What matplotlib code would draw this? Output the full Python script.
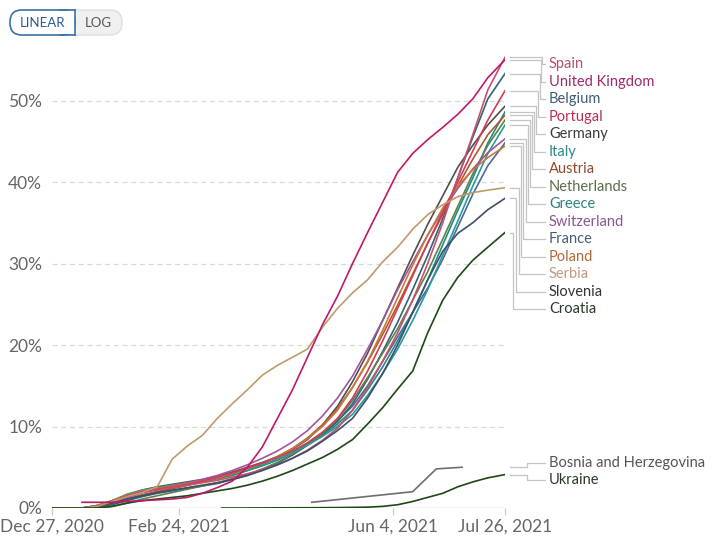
import numpy as np
import pandas as pd
import matplotlib
matplotlib.use("Agg")
import matplotlib.pyplot as plt
from matplotlib.patches import FancyBboxPatch

plt.rcParams['font.family'] = ['Lato', 'DejaVu Sans']

start = pd.Timestamp("2020-12-27")
days = [0, 7, 14, 21, 28, 35, 42, 49, 56, 63, 70, 77, 84, 91, 98, 105, 112, 119,
        126, 133, 140, 147, 154, 161, 168, 175, 182, 189, 196, 203, 211]

nan = np.nan
spain = [0, 0, 0, 0.2, 0.7, 1.4, 1.9, 2.2, 2.5, 2.8, 3.1, 3.4, 3.8, 4.2, 4.7, 5.3, 6.1, 7.1, 8.3, 9.8, 12.0, 14.8, 18.0, 21.5, 25.5, 30.0, 35.0, 40.5, 45.8, 51.3, 55.3]
uk = [nan, nan, 0.7, 0.7, 0.7, 0.8, 0.9, 1.0, 1.1, 1.3, 1.8, 2.5, 3.3, 5.0, 7.5, 11.0, 14.5, 18.5, 22.5, 26.0, 30.0, 33.8, 37.5, 41.2, 43.5, 45.2, 46.7, 48.3, 50.2, 52.8, 55.0]
belgium = [0, 0, 0, 0.1, 0.4, 0.9, 1.4, 1.8, 2.1, 2.4, 2.7, 3.0, 3.5, 4.0, 4.7, 5.5, 6.5, 7.7, 9.0, 10.6, 12.8, 15.8, 19.2, 22.8, 26.8, 31.0, 35.5, 40.5, 45.5, 50.2, 53.3]
portugal = [0, 0, 0, 0.2, 0.8, 1.5, 2.0, 2.3, 2.6, 2.9, 3.3, 3.8, 4.3, 4.9, 5.5, 6.2, 7.0, 8.0, 9.3, 11.0, 13.5, 16.8, 20.5, 24.5, 28.5, 32.5, 36.3, 40.0, 43.8, 47.6, 51.2]
germany = [0, 0, 0, 0.3, 0.9, 1.6, 2.2, 2.6, 2.9, 3.2, 3.5, 3.9, 4.4, 5.0, 5.6, 6.3, 7.2, 8.4, 10.2, 12.5, 15.5, 19.0, 23.0, 27.0, 31.0, 34.8, 38.3, 41.8, 44.5, 47.0, 49.3]
italy = [0, 0, 0, 0.2, 0.7, 1.3, 1.9, 2.3, 2.6, 2.9, 3.2, 3.6, 4.0, 4.6, 5.2, 5.9, 6.8, 7.8, 8.9, 10.3, 12.0, 14.5, 17.3, 20.5, 24.0, 28.0, 32.3, 36.5, 40.5, 44.8, 48.6]
austria = [0, 0, 0, 0.2, 0.6, 1.1, 1.6, 2.0, 2.4, 2.8, 3.2, 3.7, 4.2, 4.8, 5.5, 6.3, 7.3, 8.6, 10.2, 12.2, 14.8, 17.9, 21.3, 24.9, 28.7, 32.5, 36.0, 39.5, 42.8, 45.8, 48.2]
netherlands = [0, 0, 0, 0, 0.2, 0.6, 1.1, 1.5, 1.9, 2.3, 2.7, 3.1, 3.6, 4.1, 4.8, 5.6, 6.6, 7.8, 9.2, 10.9, 13.2, 16.0, 19.0, 22.0, 25.5, 29.0, 33.0, 37.0, 41.0, 44.5, 47.6]
greece = [0, 0, 0, 0.3, 0.9, 1.7, 2.2, 2.5, 2.8, 3.1, 3.4, 3.8, 4.2, 4.7, 5.3, 6.0, 6.8, 7.7, 8.8, 10.0, 11.5, 13.8, 16.5, 19.5, 23.0, 26.8, 31.0, 35.2, 39.5, 43.5, 47.0]
switzerland = [0, 0, 0, 0.2, 0.7, 1.3, 1.9, 2.3, 2.7, 3.1, 3.5, 4.0, 4.6, 5.3, 6.1, 7.0, 8.1, 9.5, 11.3, 13.5, 16.2, 19.5, 23.0, 26.8, 30.2, 33.5, 36.5, 39.2, 41.6, 43.6, 45.3]
france = [0, 0, 0, 0.1, 0.5, 1.1, 1.6, 2.0, 2.4, 2.8, 3.2, 3.6, 4.1, 4.6, 5.2, 5.9, 6.8, 7.9, 9.2, 10.7, 12.5, 15.0, 18.0, 21.0, 24.0, 27.0, 30.5, 34.5, 38.5, 42.0, 44.8]
poland = [0, 0, 0, 0.3, 0.9, 1.6, 2.1, 2.4, 2.7, 3.0, 3.3, 3.7, 4.2, 4.8, 5.5, 6.3, 7.3, 8.5, 10.0, 12.0, 14.8, 18.0, 21.8, 25.8, 29.8, 33.5, 36.8, 39.5, 41.5, 43.0, 44.4]
serbia = [0, 0, 0, 0.2, 0.8, 1.4, 1.9, 2.6, 6.0, 7.6, 8.9, 11.0, 12.8, 14.5, 16.3, 17.5, 18.5, 19.5, 22.2, 24.5, 26.4, 28.0, 30.2, 32.0, 34.2, 36.0, 37.2, 38.2, 38.7, 39.0, 39.3]
slovenia = [0, 0, 0, 0.2, 0.6, 1.1, 1.5, 1.9, 2.2, 2.5, 2.8, 3.1, 3.5, 4.0, 4.6, 5.3, 6.1, 7.0, 8.2, 9.5, 11.0, 13.5, 16.5, 20.0, 24.0, 28.0, 31.5, 33.7, 35.0, 36.6, 38.0]
croatia = [0, 0, 0, 0, 0.2, 0.6, 0.9, 1.1, 1.3, 1.5, 1.8, 2.1, 2.4, 2.8, 3.3, 3.9, 4.6, 5.4, 6.2, 7.2, 8.4, 10.3, 12.3, 14.6, 16.8, 21.5, 25.5, 28.3, 30.4, 32.0, 33.8]

bosnia_days = [121, 168, 179, 191]
bosnia = [0.7, 2.0, 4.8, 5.0]
ukraine_days = [79, 91, 105, 119, 133, 147, 154, 161, 168, 175, 182, 189, 196, 203, 211]
ukraine = [0, 0, 0.02, 0.03, 0.05, 0.1, 0.2, 0.4, 0.8, 1.3, 1.8, 2.6, 3.2, 3.7, 4.1]

names = ["Spain", "United Kingdom", "Belgium", "Portugal", "Germany", "Italy", "Austria",
         "Netherlands", "Greece", "Switzerland", "France", "Poland", "Serbia", "Slovenia", "Croatia"]
series = [spain, uk, belgium, portugal, germany, italy, austria, netherlands, greece,
          switzerland, france, poland, serbia, slovenia, croatia]
line_colors = ["#C8506A", "#C0176B", "#2F6478", "#D23A55", "#4F4F4F", "#1E8C86", "#B4562C",
               "#5C8248", "#2A9A9A", "#A2559C", "#4C6A9C", "#C47A3A", "#C09A6A", "#3E4E6B", "#1C4A14"]
label_colors = ["#B7506A", "#9C2A6B", "#3F5F75", "#B8304F", "#3A3A3A", "#2F8A8A", "#8F4A2A",
                "#5A6E4A", "#2F8080", "#8E5590", "#4A5A78", "#B06A3A", "#C09A80", "#333333", "#2A3A2A"]

tick_dates = ["2020-12-27", "2021-02-24", "2021-06-04", "2021-07-26"]
tick_labels = ["Dec 27, 2020", "Feb 24, 2021", "Jun 4, 2021", "Jul 26, 2021"]
ytick_vals = [0, 10, 20, 30, 40, 50]

W, H = 715, 547
fig = plt.figure(figsize=(W / 100, H / 100), dpi=100)
ax = fig.add_axes([52 / W, (H - 508) / H, 453 / W, 456.4 / H])

xmax = (pd.Timestamp("2021-07-26") - start).days
ax.set_xlim(0, xmax)
ax.set_ylim(0, 56)

draw_order = [10, 2, 4, 5, 6, 7, 8, 9, 11, 3, 0, 13, 12, 14, 1]
for i in draw_order:
    ax.plot(days, series[i], color=line_colors[i], lw=1.2, solid_joinstyle='round', zorder=3)
ax.plot(bosnia_days, bosnia, color="#6E6E6E", lw=1.2, zorder=3)
ax.plot(ukraine_days, ukraine, color="#1C4A14", lw=1.2, zorder=3)

for v in ytick_vals[1:]:
    ax.axhline(v, color="#d9d9d9", lw=0.9, ls=(0, (4, 3)), zorder=1)
ax.axhline(0, color="#cccccc", lw=1.0, zorder=1)

for s in ax.spines.values():
    s.set_visible(False)
ax.set_yticks(ytick_vals)
ax.set_yticklabels([f"{v}%" for v in ytick_vals])
tick_pos = [(pd.Timestamp(d) - start).days for d in tick_dates]
ax.set_xticks(tick_pos)
ax.set_xticklabels(tick_labels)
ax.tick_params(axis='y', length=0, pad=7, labelsize=12.5, labelcolor="#666666")
ax.tick_params(axis='x', length=5, width=1, color="#cccccc", pad=3, labelsize=12.5, labelcolor="#666666")

# overlay for labels & leader lines (pixel coordinates)
ov = fig.add_axes([0, 0, 1, 1], facecolor='none')
ov.set_xlim(0, W)
ov.set_ylim(H, 0)
ov.axis('off')

fig.canvas.draw()
def to_px(d, v):
    x, y = ax.transData.transform((d, v))
    return x, H - y

label_y = [64, 82, 99, 117, 134, 152, 169, 187, 204, 222, 239, 257, 274, 292, 309]
elbow_x = [542, 541, 540, 538, 536, 534, 532, 530, 528, 526, 523, 521, 519, 516, 513]
x0 = 510
for i, name in enumerate(names):
    _, ye = to_px(xmax, series[i][-1])
    ov.plot([x0, elbow_x[i], elbow_x[i], 545], [ye, ye, label_y[i], label_y[i]],
            color="#c4c4c4", lw=0.9)
    ov.text(549, label_y[i], name, color=label_colors[i], fontsize=10.5, va='center', ha='left')

_, yb = to_px(bosnia_days[-1], bosnia[-1])
_, yu = to_px(xmax, ukraine[-1])
for ye, yl, name, col in [(yb, 463, "Bosnia and Herzegovina", "#555555"),
                          (yu, 480, "Ukraine", "#2A3A2A")]:
    ov.plot([x0, 527, 527, 545], [ye, ye, yl, yl], color="#c4c4c4", lw=0.9)
    ov.text(549, yl, name, color=col, fontsize=10.5, va='center', ha='left')

# LINEAR / LOG toggle
outer = FancyBboxPatch((10, 10), 112, 25, boxstyle="round,pad=0,rounding_size=12",
                       fc="#f0f0f0", ec="#dddddd", lw=1)
ov.add_patch(outer)
inner = FancyBboxPatch((10, 10), 65, 25, boxstyle="round,pad=0,rounding_size=12",
                       fc="white", ec="#3b73a8", lw=1.2)
ov.add_patch(inner)
ov.add_patch(plt.Rectangle((55, 10.6), 20, 23.8, fc="white", ec="none"))
ov.plot([75, 75], [10, 35], color="#3b73a8", lw=1.2)
ov.plot([60, 75], [10, 10], color="#3b73a8", lw=1.2)
ov.plot([60, 75], [35, 35], color="#3b73a8", lw=1.2)
ov.text(42.5, 23, "LINEAR", color="#2a5c8f", fontsize=9.5, ha='center', va='center')
ov.text(98.5, 23, "LOG", color="#555555", fontsize=9.5, ha='center', va='center')

fig.savefig("out.png", dpi=100)
